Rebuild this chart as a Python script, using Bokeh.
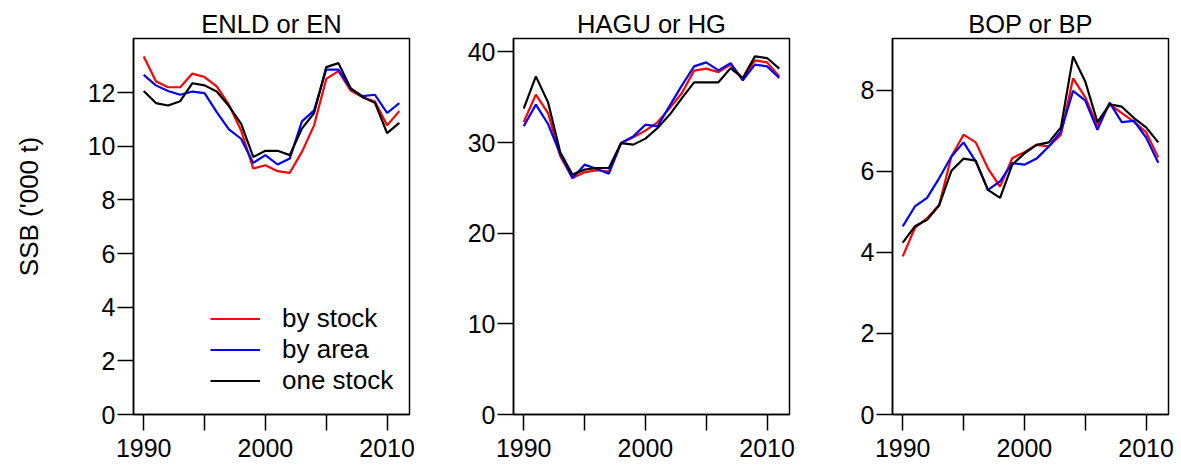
import math
from bokeh.plotting import figure
from bokeh.layouts import row
from bokeh.models import Range1d, FixedTicker, Legend, LegendItem, Label
from bokeh.embed import file_html
from bokeh.resources import INLINE

# Spawning stock biomass ('000 t) by year, three assessment approaches
years = list(range(1990, 2012))

enld_by_stock = [13.35, 12.42, 12.20, 12.20, 12.71, 12.58, 12.23, 11.55, 10.59, 9.17, 9.29,
                 9.07, 9.01, 9.79, 10.78, 12.51, 12.80, 12.08, 11.83, 11.67, 10.78, 11.31]
enld_by_area = [12.66, 12.27, 12.06, 11.92, 12.04, 11.98, 11.27, 10.63, 10.28, 9.38, 9.67,
                9.32, 9.54, 10.93, 11.34, 12.86, 12.86, 12.14, 11.87, 11.92, 11.24, 11.61]
enld_one_stock = [12.06, 11.61, 11.52, 11.68, 12.35, 12.27, 12.04, 11.50, 10.84, 9.60, 9.83,
                  9.83, 9.67, 10.66, 11.24, 12.95, 13.10, 12.17, 11.83, 11.62, 10.49, 10.87]

hagu_by_stock = [32.26, 35.28, 33.25, 28.48, 26.09, 26.71, 26.94, 26.82, 29.94, 30.57, 31.31,
                 32.23, 33.80, 35.46, 37.93, 38.15, 37.77, 38.59, 37.05, 39.06, 38.84, 37.30]
hagu_by_area = [31.79, 34.18, 32.04, 28.73, 26.09, 27.56, 27.08, 26.57, 29.94, 30.68, 31.97,
                31.79, 34.07, 36.31, 38.40, 38.84, 37.96, 38.76, 36.86, 38.59, 38.40, 37.11]
hagu_one_stock = [33.74, 37.30, 34.43, 28.92, 26.46, 27.01, 27.19, 27.19, 29.94, 29.77, 30.43,
                  31.60, 33.08, 34.90, 36.64, 36.64, 36.64, 38.21, 37.11, 39.50, 39.32, 38.15]

bop_by_stock = [3.90, 4.60, 4.84, 5.17, 6.36, 6.90, 6.71, 6.07, 5.62, 6.32, 6.47,
                6.65, 6.61, 6.90, 8.29, 7.82, 7.12, 7.65, 7.43, 7.22, 6.96, 6.34]
bop_by_area = [4.64, 5.13, 5.34, 5.83, 6.36, 6.71, 6.24, 5.54, 5.75, 6.20, 6.16,
               6.31, 6.61, 6.98, 7.98, 7.74, 7.02, 7.69, 7.21, 7.24, 6.83, 6.21]
bop_one_stock = [4.24, 4.64, 4.80, 5.16, 6.01, 6.31, 6.26, 5.54, 5.34, 6.16, 6.44,
                 6.65, 6.71, 7.08, 8.83, 8.21, 7.21, 7.65, 7.59, 7.31, 7.08, 6.71]

panel_titles = ["ENLD or EN", "HAGU or HG", "BOP or BP"]
y_ticks = [[0, 2, 4, 6, 8, 10, 12], [0, 10, 20, 30, 40], [0, 2, 4, 6, 8]]
x_ticks = [1990, 1995, 2000, 2005, 2010]
x_tick_labels = {1990: "1990", 1995: "", 2000: "2000", 2005: "", 2010: "2010"}
series_names = ["by stock", "by area", "one stock"]
series_colors = ["#FF0000", "#0000FF", "#000000"]
y_title = "SSB ('000 t)"

panels = [
    (enld_by_stock, enld_by_area, enld_one_stock),
    (hagu_by_stock, hagu_by_area, hagu_one_stock),
    (bop_by_stock, bop_by_area, bop_one_stock),
]

FONT = "Liberation Sans"
TOTAL_H = 465
STRIP_W = 60
borders = [(133 - STRIP_W, 10), (94, 10), (93, 13)]

# Narrow strip on the left carrying the shared y-axis title
strip = figure(width=STRIP_W, height=TOTAL_H, min_border=0,
               x_axis_type=None, y_axis_type=None,
               x_range=Range1d(0, 1), y_range=Range1d(0, 1),
               output_backend="svg", toolbar_location=None)
strip.outline_line_color = None
strip.xgrid.visible = False
strip.ygrid.visible = False
strip.add_layout(Label(x=28, y=TOTAL_H - 257, x_units="screen", y_units="screen",
                       text=y_title, angle=math.pi / 2,
                       text_align="center", text_baseline="middle",
                       text_font=FONT, text_font_size="26px", text_color="black"))

x_pad = 0.04 * (years[-1] - years[0])
figs = [strip]
for k, (series, title, yt) in enumerate(zip(panels, panel_titles, y_ticks)):
    ymax = 1.05 * max(max(s) for s in series)
    left, right = borders[k]
    p = figure(frame_width=276, frame_height=376,
               min_border_left=left, min_border_right=right,
               min_border_top=38, min_border_bottom=51,
               x_range=Range1d(years[0] - x_pad, years[-1] + x_pad),
               y_range=Range1d(0, ymax),
               output_backend="svg", toolbar_location=None, title=title)
    p.title.align = "center"
    p.title.text_font = FONT
    p.title.text_font_size = "25.5px"
    p.title.text_font_style = "normal"
    p.title.text_color = "black"
    p.title.standoff = 2

    p.outline_line_color = "black"
    p.outline_line_width = 1.5
    p.outline_line_alpha = 1
    p.xgrid.visible = False
    p.ygrid.visible = False
    p.background_fill_color = "white"
    p.border_fill_color = "white"

    for ax in (p.xaxis[0], p.yaxis[0]):
        ax.axis_line_color = "black"
        ax.axis_line_width = 1.5
        ax.major_tick_line_color = "black"
        ax.major_tick_line_width = 1.5
        ax.major_tick_out = 16
        ax.major_tick_in = 0
        ax.minor_tick_line_color = None
        ax.major_label_text_font = FONT
        ax.major_label_text_font_size = "25px"
        ax.major_label_text_color = "black"

    p.xaxis.ticker = FixedTicker(ticks=x_ticks)
    p.xaxis.major_label_overrides = x_tick_labels
    p.xaxis.major_label_standoff = 8
    p.yaxis.ticker = FixedTicker(ticks=yt)
    p.yaxis.major_label_orientation = "horizontal"
    p.yaxis.major_label_standoff = 2

    renderers = []
    for vals, color in zip(series, series_colors):
        r = p.line(years, vals, line_color=color, line_width=2.2)
        renderers.append(r)

    if k == 0:
        legend = Legend(items=[LegendItem(label=n, renderers=[r])
                               for n, r in zip(series_names, renderers)],
                        location=(77, 18))
        legend.border_line_alpha = 0
        legend.background_fill_alpha = 0
        legend.padding = 0
        legend.margin = 0
        legend.spacing = 0
        legend.glyph_width = 50
        legend.glyph_height = 29
        legend.label_height = 29
        legend.label_standoff = 22
        legend.label_text_font = FONT
        legend.label_text_font_size = "26px"
        legend.label_text_color = "black"
        p.add_layout(legend, "center")

    figs.append(p)

layout = row(*figs)
open("out.html", "w").write(file_html(layout, INLINE))
